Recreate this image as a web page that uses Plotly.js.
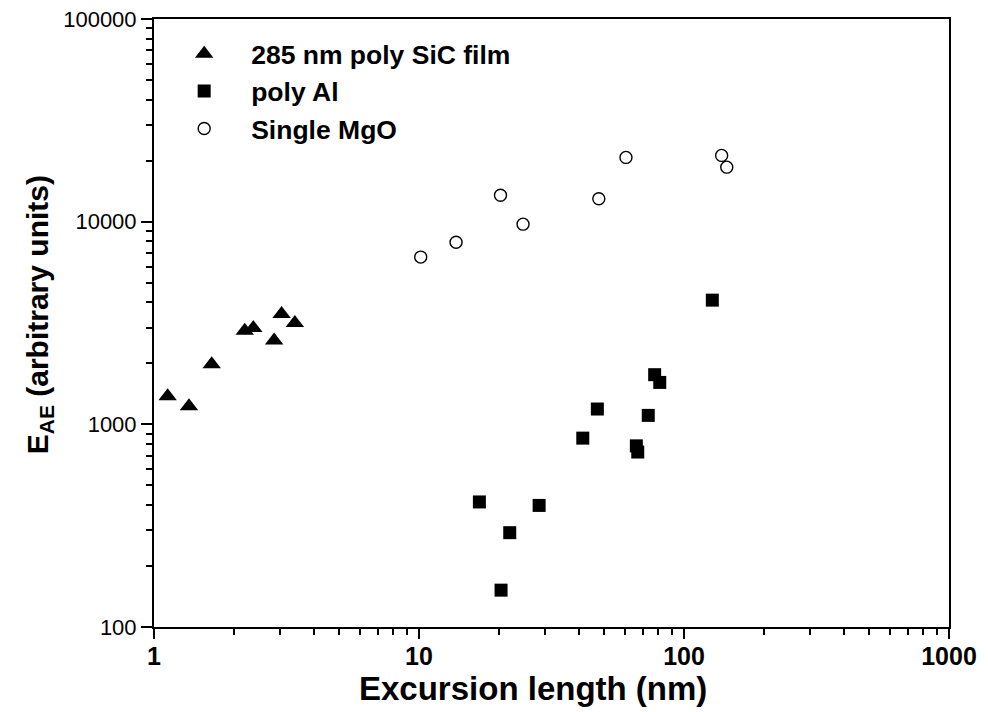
<!DOCTYPE html>
<html>
<head>
<meta charset="utf-8">
<script src="https://cdn.plot.ly/plotly-3.0.1.min.js"></script>
<style>html,body{margin:0;padding:0;background:#fff;}#chart{width:988px;height:712px;}</style>
</head>
<body>
<div id="chart"></div>
<script>
// Data
var sicName = "285 nm poly SiC film";
var sicX = [1.126, 1.355, 1.651, 2.20, 2.37, 2.84, 3.03, 3.40];
var sicY = [1374, 1227, 1981, 2898, 2985, 2594, 3500, 3163];

var alName = "poly Al";
var alX = [127.9, 77.5, 81.0, 47.1, 73.3, 41.5, 66.1, 66.9, 16.9, 28.4, 22.0, 20.4];
var alY = [4100, 1758, 1610, 1190, 1107, 855, 783, 730, 414, 398, 292, 152];

var mgoName = "Single MgO";
var mgoX = [10.15, 13.8, 20.3, 24.7, 47.7, 60.4, 138.7, 145];
var mgoY = [6685, 7910, 13490, 9720, 12970, 20750, 21230, 18580];

var xTickVals = [1, 10, 100, 1000];
var xTickText = ["1", "10", "100", "1000"];
var yTickVals = [100, 1000, 10000, 100000];
var yTickText = ["100", "1000", "10000", "100000"];

var NB = "\u00A0", ZW = "\u200B";
var xTitle = "Excursion length (nm)" + NB + NB + NB + NB + ZW;
var yTitle = ZW + NB + NB + "E<sub>AE</sub> (arbitrary units)";

var FONT = "Liberation Sans, Arial, Helvetica, sans-serif";

var traces = [
  {x: sicX, y: sicY, name: sicName, type: "scatter", mode: "markers",
   marker: {symbol: "triangle-up", size: 16, color: "black"}},
  {x: alX, y: alY, name: alName, type: "scatter", mode: "markers",
   marker: {symbol: "square", size: 13, color: "black"}},
  {x: mgoX, y: mgoY, name: mgoName, type: "scatter", mode: "markers",
   marker: {symbol: "circle-open", size: 12, color: "black", line: {width: 1.4, color: "black"}}}
];

var layout = {
  width: 988, height: 712,
  margin: {l: 154, r: 39, t: 19, b: 85},
  paper_bgcolor: "white", plot_bgcolor: "white",
  font: {family: FONT, color: "black"},
  showlegend: true,
  legend: {x: 0.004, y: 0.982, xanchor: "left", yanchor: "top",
           font: {family: FONT, size: 26.5, weight: "bold", color: "black"},
           itemwidth: 84, traceorder: "normal",
           bgcolor: "rgba(0,0,0,0)", borderwidth: 0},
  xaxis: {type: "log", range: [0, 3], showgrid: false, zeroline: false,
          showline: true, linewidth: 2, linecolor: "black", mirror: true,
          ticks: "outside", ticklen: 10, tickwidth: 2, tickcolor: "black",
          tickvals: xTickVals, ticktext: xTickText, ticklabelstandoff: -4,
          tickfont: {family: FONT, size: 25, weight: "bold", color: "black"},
          minor: {dtick: "D1", ticks: "outside", ticklen: 6, tickwidth: 2, tickcolor: "black", showgrid: false},
          title: {text: xTitle, standoff: 4,
                  font: {family: FONT, size: 33, weight: "bold", color: "black"}}},
  yaxis: {type: "log", range: [2, 5], showgrid: false, zeroline: false,
          showline: true, linewidth: 2, linecolor: "black", mirror: true,
          ticks: "outside", ticklen: 11, tickwidth: 2, tickcolor: "black",
          tickvals: yTickVals, ticktext: yTickText,
          tickfont: {family: FONT, size: 22, color: "black"},
          minor: {dtick: "D1", ticks: "outside", ticklen: 6, tickwidth: 2, tickcolor: "black", showgrid: false},
          title: {text: yTitle, standoff: 6,
                  font: {family: FONT, size: 30, weight: "bold", color: "black"}}},
  xaxis2: {type: "log", range: [0, 3], overlaying: "x", side: "top", anchor: "y",
           showgrid: false, zeroline: false, showline: false, showticklabels: false,
           ticks: "inside", ticklen: 10, tickwidth: 2, tickcolor: "black", dtick: 1,
           minor: {dtick: "D1", ticks: "inside", ticklen: 6, tickwidth: 2, tickcolor: "black", showgrid: false}},
  yaxis2: {type: "log", range: [2, 5], overlaying: "y", side: "right", anchor: "x",
           showgrid: false, zeroline: false, showline: false, showticklabels: false,
           ticks: "inside", ticklen: 11, tickwidth: 2, tickcolor: "black", dtick: 1,
           minor: {dtick: "D1", ticks: "inside", ticklen: 6, tickwidth: 2, tickcolor: "black", showgrid: false}}
};

Plotly.newPlot("chart", traces, layout, {displayModeBar: false, staticPlot: true});
</script>
</body>
</html>
